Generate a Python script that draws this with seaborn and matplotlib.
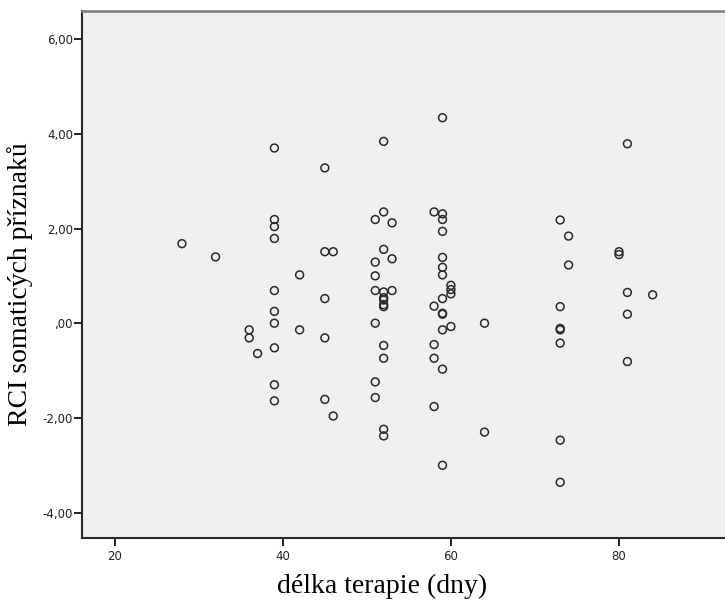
import matplotlib
matplotlib.use("Agg")
import matplotlib.pyplot as plt
from matplotlib.ticker import FuncFormatter
import seaborn as sns
import pandas as pd

# Length of therapy (days) and RCI of somatic symptoms, grouped by day count
days_28 = [1.68]
days_32 = [1.40]
days_36 = [-0.14, -0.31]
days_37 = [-0.64]
days_39 = [3.70, 2.19, 2.04, 1.79, 0.69, 0.25, 0.00, -0.52, -1.30, -1.64]
days_42 = [1.02, -0.14]
days_45 = [3.28, 1.51, 0.52, -0.31, -1.61]
days_46 = [1.51, -1.96]
days_51 = [2.19, 1.29, 1.00, 0.69, 0.00, -1.24, -1.57]
days_52 = [3.84, 2.35, 1.56, 0.66, 0.54, 0.49, 0.39, 0.35, -0.47, -0.74, -2.24, -2.38]
days_53 = [2.12, 1.36, 0.69]
days_58 = [2.35, 0.36, -0.45, -0.74, -1.76]
days_59 = [4.34, 2.31, 2.19, 1.94, 1.39, 1.18, 1.02, 0.52, 0.21, 0.19, -0.14, -0.97, -3.00]
days_60 = [0.80, 0.71, 0.62, -0.07]
days_64 = [0.00, -2.30]
days_73 = [2.18, 0.35, -0.11, -0.14, -0.42, -2.47, -3.36]
days_74 = [1.84, 1.23]
days_80 = [1.51, 1.45]
days_81 = [3.79, 0.65, 0.19, -0.81]
days_84 = [0.60]

groups = {
    28: days_28, 32: days_32, 36: days_36, 37: days_37, 39: days_39,
    42: days_42, 45: days_45, 46: days_46, 51: days_51, 52: days_52,
    53: days_53, 58: days_58, 59: days_59, 60: days_60, 64: days_64,
    73: days_73, 74: days_74, 80: days_80, 81: days_81, 84: days_84,
}

x_ticks = [20, 40, 60, 80]
y_ticks = [-4, -2, 0, 2, 4, 6]

rows = [(d, v) for d, vals in groups.items() for v in vals]
df = pd.DataFrame(rows, columns=["delka", "rci"])

sns.set_theme(style="white")
plt.rcParams["font.family"] = ["DejaVu Sans"]

fig = plt.figure(figsize=(7.25, 6.02), dpi=100)
ax = fig.add_axes([82 / 725, 64.3 / 602, 1 - 82 / 725, 527 / 602])
ax.set_facecolor("#f0f0f0")

sns.scatterplot(data=df, x="delka", y="rci", ax=ax, marker="o", s=32,
                facecolor="none", edgecolor="#2a2a2a", linewidth=1.1,
                legend=False, zorder=3)

ax.set_xlim(16.11, 92.61)
ax.set_ylim(-4.53, 6.60)
ax.set_xticks(x_ticks)
ax.set_yticks(y_ticks)


def comma_fmt(v, pos):
    s = f"{v:.2f}".replace(".", ",")
    if s.startswith("0,"):
        s = s[1:]
    elif s.startswith("-0,"):
        s = s[2:]
    return s


ax.yaxis.set_major_formatter(FuncFormatter(comma_fmt))
ax.xaxis.set_major_formatter(FuncFormatter(lambda v, p: f"{int(v)}"))

ax.tick_params(axis="both", which="major", direction="out", length=6,
               width=1.4, color="#222222", labelsize=8.5, labelcolor="#222222",
               bottom=True, left=True, top=False, right=False)
ax.tick_params(axis="y", pad=0.5)
ax.tick_params(axis="x", pad=2.5)

for side in ("left", "bottom"):
    ax.spines[side].set_color("#2a2a2a")
    ax.spines[side].set_linewidth(1.5)
ax.spines["top"].set_color("#7a7a7a")
ax.spines["top"].set_linewidth(1.8)
ax.spines["right"].set_visible(False)

ax.set_xlabel("délka terapie (dny)", fontsize=20, family="Liberation Serif",
              color="black")
ax.set_ylabel("RCI somaticých příznaků", fontsize=20, family="Liberation Serif",
              color="black")
ax.xaxis.set_label_coords((382 - 82) / 643, -0.092)
ax.yaxis.set_label_coords(-(82 - 20) / 643, 0.481)
ax.xaxis.label.set_va("center")
ax.yaxis.label.set_va("center")

fig.savefig("out.png", dpi=100, facecolor="white")
